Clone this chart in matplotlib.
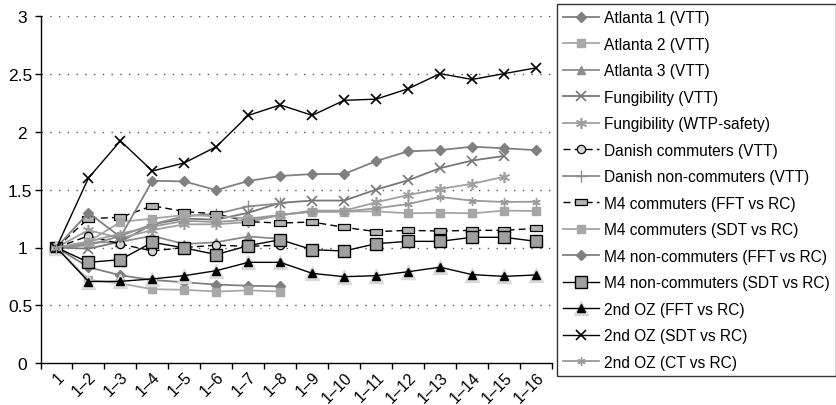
import numpy as np
import matplotlib
matplotlib.use("Agg")
import matplotlib.pyplot as plt
from matplotlib.legend_handler import HandlerTuple

plt.rcParams['font.family'] = ['Liberation Sans', 'DejaVu Sans']

categories = ["1"] + ["1\u2013%d" % k for k in range(2, 17)]

atlanta1 = [1.00, 0.83, 0.76, 0.72, 0.70, 0.68, 0.67, 0.665]
atlanta2 = [1.00, 0.72, 0.69, 0.64, 0.635, 0.62, 0.63, 0.62]
atlanta3 = [1.00, 1.04, 1.05, 1.10, 1.03, 1.045, 1.095, 1.075]
fung_vtt = [1.00, 0.99, 1.05, 1.20, 1.25, 1.24, 1.30, 1.385, 1.405, 1.405, 1.50, 1.58, 1.685, 1.75, 1.79]
fung_wtp = [1.00, 1.15, 1.08, 1.15, 1.20, 1.20, 1.22, 1.28, 1.318, 1.318, 1.39, 1.453, 1.505, 1.55, 1.61]
danish_comm = [1.00, 1.10, 1.03, 0.97, 1.00, 1.02, 1.01, 1.02]
danish_noncomm = [1.00, 1.02, 1.10, 1.20, 1.27, 1.29, 1.355, 1.38]
m4_comm_fft = [1.00, 1.25, 1.26, 1.36, 1.31, 1.29, 1.223, 1.211, 1.22, 1.174, 1.137, 1.148, 1.142, 1.148, 1.148, 1.165]
m4_comm_sdt = [1.00, 1.05, 1.22, 1.25, 1.28, 1.27, 1.25, 1.28, 1.31, 1.31, 1.312, 1.295, 1.30, 1.295, 1.318, 1.315]
m4_noncomm_fft = [1.00, 1.30, 1.09, 1.576, 1.57, 1.495, 1.574, 1.617, 1.634, 1.634, 1.746, 1.83, 1.84, 1.87, 1.856, 1.84]
m4_noncomm_sdt = [1.00, 0.872, 0.895, 1.045, 0.996, 0.939, 1.016, 1.067, 0.981, 0.97, 1.033, 1.053, 1.053, 1.088, 1.088, 1.053]
oz_fft = [1.00, 0.706, 0.708, 0.729, 0.757, 0.80, 0.872, 0.872, 0.777, 0.748, 0.757, 0.791, 0.83, 0.766, 0.751, 0.763]
oz_sdt = [1.00, 1.60, 1.92, 1.66, 1.73, 1.87, 2.14, 2.23, 2.14, 2.27, 2.28, 2.37, 2.50, 2.45, 2.50, 2.55]
oz_ct = [1.00, 1.05, 1.12, 1.18, 1.23, 1.22, 1.24, 1.28, 1.31, 1.31, 1.338, 1.375, 1.436, 1.404, 1.393, 1.395]

yticks = [0, 0.5, 1, 1.5, 2, 2.5, 3]
ytick_labels = ["0 ", "0.5", "1 ", "1.5", "2 ", "2.5", "3 "]

fig = plt.figure(figsize=(8.36, 4.06), dpi=100)
ax = fig.add_axes([40.5 / 836, 41.6 / 406, 511.5 / 836, 347.7 / 406])

def xs(vals):
    return np.arange(len(vals))

rect = [(-1, -0.55), (1, -0.55), (1, 0.55), (-1, 0.55), (-1, -0.55)]
aster = (6, 2, 0)

handles = []
labels = []

def add(vals, label, **kw):
    h, = ax.plot(xs(vals), vals, **kw)
    handles.append(h)
    labels.append(label)
    return h

add(atlanta1, "Atlanta 1 (VTT)", color='#7f7f7f', lw=1.3, marker='D', ms=5, mec='#7f7f7f')
add(atlanta2, "Atlanta 2 (VTT)", color='#a8a8a8', lw=1.3, marker='s', ms=6, mec='#a8a8a8')
add(atlanta3, "Atlanta 3 (VTT)", color='#8c8c8c', lw=1.3, marker='^', ms=6, mec='#8c8c8c')
add(fung_vtt, "Fungibility (VTT)", color='#777777', lw=1.3, marker='x', ms=7, mew=1.2)
add(fung_wtp, "Fungibility (WTP-safety)", color='#a0a0a0', lw=1.3, marker=aster, ms=8, mew=1.2)
add(danish_comm, "Danish commuters (VTT)", color='black', lw=1.0, ls=(0, (5, 3)), marker='o', ms=6,
    mfc='#d4d4d4', mec='black', mew=0.9)
add(danish_noncomm, "Danish non-commuters (VTT)", color='#8c8c8c', lw=1.3, marker='+', ms=8, mew=1.0)
add(m4_comm_fft, "M4 commuters (FFT vs RC)", color='black', lw=1.0, ls=(0, (5, 3)), marker=rect, ms=8,
    mfc='#b4b4b4', mec='black', mew=0.9)
add(m4_comm_sdt, "M4 commuters (SDT vs RC)", color='#a6a6a6', lw=1.3, marker='s', ms=6, mec='#a6a6a6')
add(m4_noncomm_fft, "M4 non-commuters (FFT vs RC)", color='#808080', lw=1.3, marker='D', ms=5, mec='#808080')
add(m4_noncomm_sdt, "M4 non-commuters (SDT vs RC)", color='black', lw=1.0, marker='s', ms=8,
    mfc='#a0a0a0', mec='black', mew=1.0)
halo, = ax.plot(xs(oz_fft), oz_fft, ls='none', marker='^', ms=10, mfc='#d9d9d9', mec='#d9d9d9')
main, = ax.plot(xs(oz_fft), oz_fft, color='black', lw=1.0, marker='^', ms=6, mfc='black', mec='black')
handles.append((halo, main))
labels.append("2nd OZ (FFT vs RC)")
add(oz_sdt, "2nd OZ (SDT vs RC)", color='black', lw=1.0, marker='x', ms=7, mew=1.2)
add(oz_ct, "2nd OZ (CT vs RC)", color='#999999', lw=1.3, marker=aster, ms=6, mew=1.0)

ax.set_xlim(-0.5, len(categories) - 0.5)
ax.set_ylim(0, 3)
ax.set_yticks(yticks)
ax.set_yticklabels(ytick_labels)
for y in yticks[1:]:
    ax.axhline(y, color='#555555', lw=1.0, ls=(0, (1, 5.3)), zorder=0)

ax.set_xticks(np.arange(len(categories)))
ax.set_xticklabels(categories, rotation=45, ha='right', va='top', rotation_mode='anchor')
ax.set_xticks(np.arange(len(categories) + 1) - 0.5, minor=True)
ax.tick_params(axis='x', which='major', length=0, pad=4, labelsize=11.5)
ax.tick_params(axis='x', which='minor', length=4, width=1, direction='out')
ax.tick_params(axis='y', length=4, width=1, direction='out', pad=2, labelsize=12.5)

for s in ['top', 'right']:
    ax.spines[s].set_visible(False)
for s in ['left', 'bottom']:
    ax.spines[s].set_linewidth(1.0)

leg = fig.legend(handles, labels, loc='upper left', bbox_to_anchor=(557 / 836, 1 - 5 / 406),
                 bbox_transform=fig.transFigure, borderaxespad=0, fontsize=11.2,
                 handlelength=2.3, handletextpad=0.35, labelspacing=0.74, borderpad=0.4,
                 fancybox=False, frameon=True, edgecolor='black',
                 handler_map={tuple: HandlerTuple(ndivide=1)})
leg.get_frame().set_linewidth(1.0)

fig.savefig("out.png", dpi=100)
